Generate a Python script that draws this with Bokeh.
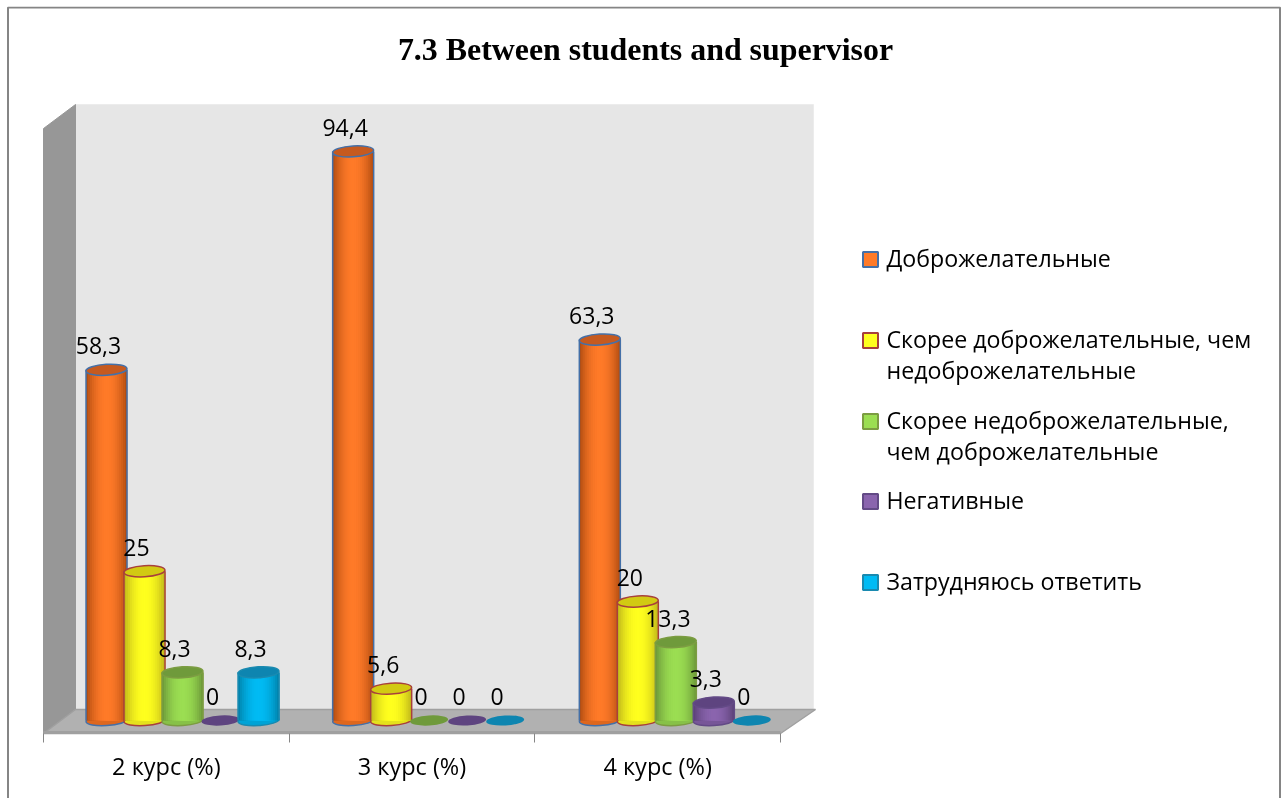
import numpy as np
from bokeh.plotting import figure
from bokeh.models import LinearAxis, FixedTicker, Range1d
from bokeh.core.properties import value
from bokeh.embed import file_html
from bokeh.resources import INLINE

title = "7.3 Between students and supervisor"
groups = ["2 курс (%)", "3 курс (%)", "4 курс (%)"]
dobro = [58.3, 94.4, 63.3]
skoree_dobro = [25, 5.6, 20]
skoree_nedobro = [8.3, 0, 13.3]
negativ = [0, 0, 3.3]
zatrud = [8.3, 0, 0]
labels_dobro = ["58,3", "94,4", "63,3"]
labels_skoree_dobro = ["25", "5,6", "20"]
labels_skoree_nedobro = ["8,3", "0", "13,3"]
labels_negativ = ["0", "0", "3,3"]
labels_zatrud = ["8,3", "0", "0"]
legend_lines = [["Доброжелательные"],
                ["Скорее доброжелательные, чем", "недоброжелательные"],
                ["Скорее недоброжелательные,", "чем доброжелательные"],
                ["Негативные"],
                ["Затрудняюсь ответить"]]
series = [dobro, skoree_dobro, skoree_nedobro, negativ, zatrud]
series_labels = [labels_dobro, labels_skoree_dobro, labels_skoree_nedobro, labels_negativ, labels_zatrud]
# centre, edge, top face, outline
colors = [("#ff7a28", "#ad4a10", "#c65a1f", "#4470a8"),
          ("#ffff1e", "#bdb41a", "#d2ca12", "#a8403c"),
          ("#9bde52", "#6a9638", "#6f9a3b", "#7c9c42"),
          ("#8a64ae", "#5a4076", "#5e4480", "#634a86"),
          ("#00bbf4", "#0080a8", "#0e85b0", "#1a8ab0")]

FIG_L, FIG_T, FIG_W, FIG_H = 6, 6, 1276, 792
PX_X0, PX_UNIT = 43.0, 245.67
PX_Y0, PX_VAL = 733.0, 6.05
X = lambda px: (px - PX_X0) / PX_UNIT
Y = lambda py: (PX_Y0 - py) / PX_VAL
dX = lambda d: d / PX_UNIT
dY = lambda d: d / PX_VAL

p = figure(width=FIG_W, height=FIG_H, output_backend="svg", toolbar_location=None,
           x_range=Range1d(X(FIG_L), X(FIG_L + FIG_W)), y_range=Range1d(Y(FIG_T + FIG_H), Y(FIG_T)),
           x_axis_type=None, y_axis_type=None, min_border=0,
           background_fill_color="white", border_fill_color="white", outline_line_color=None)
p.grid.visible = False
p.styles = {"position": "fixed", "left": f"{FIG_L}px", "top": f"{FIG_T}px"}

# outer frame
bx0, bx1, by0, by1 = X(7.5), X(1279.5), Y(798), Y(7)
p.line([bx0, bx0, bx1, bx1], [by0, by1, by1, by0], line_color="#858585", line_width=2)

# walls: value range 0..100 and the three groups, with a depth offset
dep_x, dep_y = dX(32), dY(24)
nx = len(groups)
p.patch([dep_x, nx + dX(33), nx + dX(33), dep_x], [dep_y, dep_y, 100 + dep_y, 100 + dep_y],
        fill_color="#e6e6e6", line_color="#ececec", line_width=1)
p.patch([0, dep_x, dep_x, 0], [0, dep_y, 100 + dep_y, 100], fill_color="#979797", line_color="#979797", line_width=1)
p.patch([0, dep_x, nx + dX(35), nx], [0, dep_y, dep_y, 0], fill_color="#b1b1b1", line_color="#a0a0a0", line_width=1.5)
p.line([0, nx], [dY(1), dY(1)], line_color="#a0a0a0", line_width=3)

# cylinders
N = 21
BAR_W, BASE_DEPTH, TOP_DEPTH = 41 / PX_UNIT, dY(13), dY(11)
def mix(c1, c2, t):
    a = [int(c1[i:i + 2], 16) for i in (1, 3, 5)]
    b = [int(c2[i:i + 2], 16) for i in (1, 3, 5)]
    return "#%02x%02x%02x" % tuple(int(round(u + (v - u) * t)) for u, v in zip(a, b))

for i, (vals, cols) in enumerate(zip(series, colors)):
    mid, edge, top, out = cols
    for g, v in enumerate(vals):
        cx = g * 1.004 + 0.2565 + i * 0.1547
        if v == 0:
            p.ellipse([cx], [BASE_DEPTH], width=38, height=10, width_units="screen", height_units="screen",
                      angle=0.06, fill_color=top, line_color=None)
            continue
        ytop = v + TOP_DEPTH
        p.ellipse([cx], [BASE_DEPTH], width=41, height=10, width_units="screen", height_units="screen",
                  angle=0.06, fill_color=mix(mid, edge, 0.4), line_color=out, line_width=1.5)
        edges = np.linspace(cx - BAR_W / 2, cx + BAR_W / 2, N + 1)
        t = np.abs((edges[:-1] + edges[1:]) / 2 - cx) / (BAR_W / 2)
        fills = [mix(mid, edge, float(s) ** 2.0) for s in t]
        # painted left to right, each strip reaching the right side, so no seams show
        p.quad(left=edges[:-1], right=[cx + BAR_W / 2] * N, bottom=[BASE_DEPTH] * N, top=[ytop] * N,
               fill_color=fills, line_color=None)
        p.segment([cx - BAR_W / 2, cx + BAR_W / 2], [BASE_DEPTH] * 2, [cx - BAR_W / 2, cx + BAR_W / 2], [ytop] * 2,
                  line_color=out, line_width=1.5)
        p.ellipse([cx], [ytop], width=41, height=11, width_units="screen", height_units="screen",
                  angle=0.06, fill_color=top, line_color=out, line_width=1.5)

# data labels on top of all bars
LABEL_FONT = value("Open Sans")
for i, (vals, labs) in enumerate(zip(series, series_labels)):
    for g, (v, s) in enumerate(zip(vals, labs)):
        cx = g * 1.004 + 0.2565 + i * 0.1547
        yy = (v + TOP_DEPTH if v else BASE_DEPTH) + dY(24)
        p.text([cx - dX(8)], [yy], text=[s], text_font=LABEL_FONT, text_font_size="23px", text_color="#000000",
               text_align="center", text_baseline="middle")

# category axis: tick marks at group borders, labels at group centres
ax = LinearAxis(ticker=FixedTicker(ticks=[0, 1, 2, 3]), fixed_location=0, bounds=(0, 3),
                axis_line_color="#a0a0a0", axis_line_width=1, major_tick_line_color="#868686",
                major_tick_in=0, major_tick_out=9, minor_tick_line_color=None,
                major_label_overrides={0: "", 1: "", 2: "", 3: ""})
p.add_layout(ax, "below")
ax2 = LinearAxis(ticker=FixedTicker(ticks=[0.5, 1.5, 2.5]), fixed_location=0,
                 axis_line_color=None, major_tick_line_color=None, minor_tick_line_color=None,
                 major_label_overrides={0.5: groups[0], 1.5: groups[1], 2.5: groups[2]},
                 major_label_text_font="Open Sans", major_label_text_font_size="23.5px",
                 major_label_text_color="#000000", major_label_standoff=10)
p.add_layout(ax2, "below")

# title
p.text([X(645)], [Y(49)], text=[title], text_font=value("Liberation Serif"), text_font_style="bold",
       text_font_size="31.9px", text_color="#000000", text_align="center", text_baseline="middle")

# legend
legend_py = [259, 340, 421, 501, 582]
for py, lines, cols in zip(legend_py, legend_lines, colors):
    p.scatter([X(870)], [Y(py)], marker="square", size=15, fill_color=cols[0], line_color=cols[3], line_width=2)
    for k, s in enumerate(lines):
        p.text([X(886)], [Y(py - 2 + 31 * k)], text=[s], text_font=LABEL_FONT, text_font_size="23.2px",
               text_color="#000000", text_align="left", text_baseline="middle")

open("out.html", "w").write(file_html(p, INLINE))
